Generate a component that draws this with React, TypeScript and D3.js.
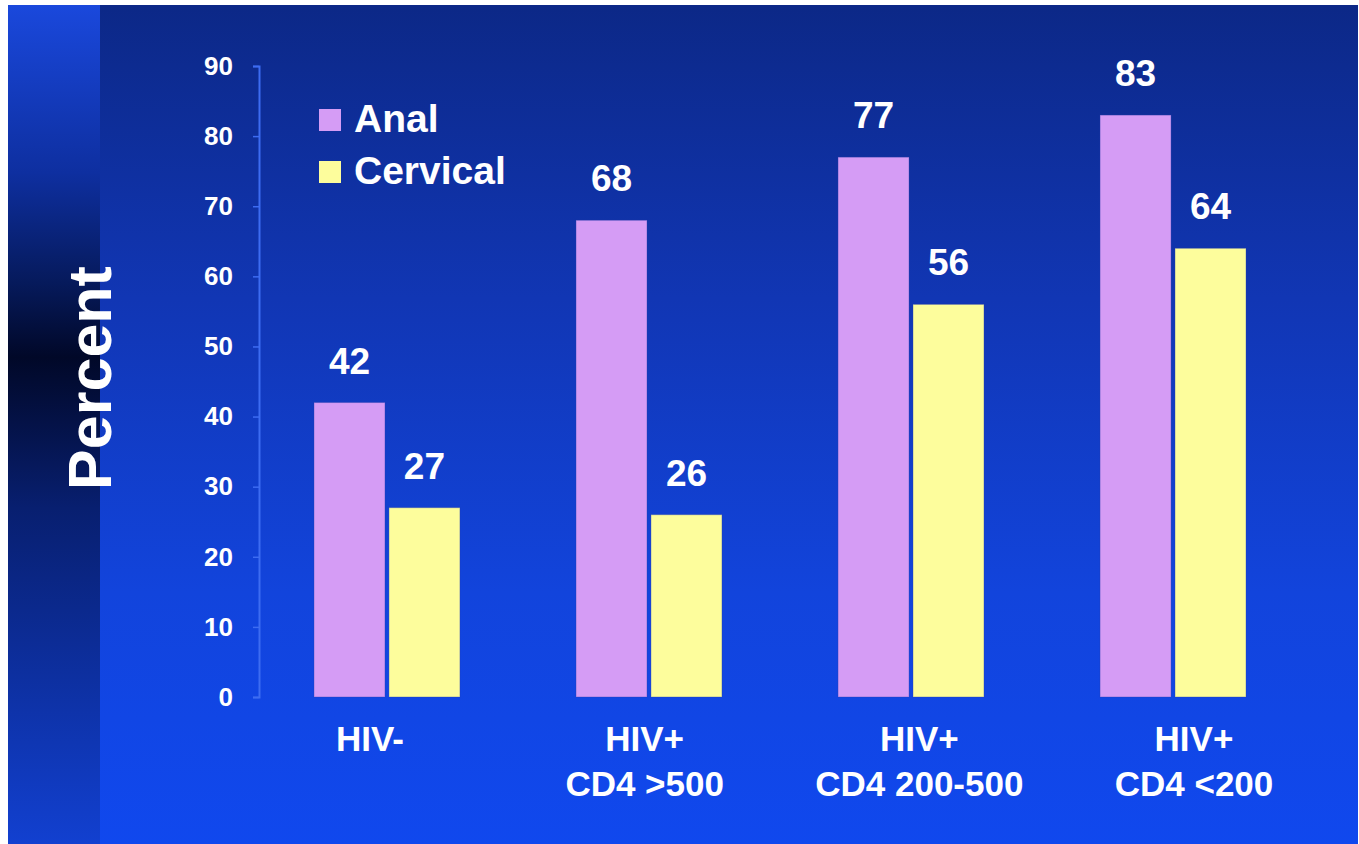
import { useRef, useEffect } from "react";
import * as d3 from "d3";

const categories = ["HIV-", "HIV+\nCD4 >500", "HIV+\nCD4 200-500", "HIV+\nCD4 <200"];
const seriesNames = ["Anal", "Cervical"];
const analValues = [42, 68, 77, 83];
const cervicalValues = [27, 26, 56, 64];
const yTicks = [0, 10, 20, 30, 40, 50, 60, 70, 80, 90];

const colors: Record<string, string> = { Anal: "#d59cf5", Cervical: "#fdfd9c" };
const FONT = "'Liberation Sans', Arial, Helvetica, sans-serif";

const W = 1359;
const H = 844;

export default function App() {
    const ref = useRef<SVGSVGElement>(null);

    useEffect(() => {
        if (!ref.current) return;
        const svg = d3.select(ref.current);
        svg.selectAll("*").remove();

        const defs = svg.append("defs");
        const main = defs.append("linearGradient").attr("id", "bgMain")
            .attr("x1", 0).attr("y1", 0).attr("x2", 0).attr("y2", 1);
        main.append("stop").attr("offset", 0).attr("stop-color", "#0c2887");
        main.append("stop").attr("offset", 0.35).attr("stop-color", "#1136b4");
        main.append("stop").attr("offset", 0.7).attr("stop-color", "#1244dc");
        main.append("stop").attr("offset", 1).attr("stop-color", "#1048ee");

        const side = defs.append("linearGradient").attr("id", "bgSide")
            .attr("x1", 0).attr("y1", 0).attr("x2", 0).attr("y2", 1);
        side.append("stop").attr("offset", 0).attr("stop-color", "#1a48dc");
        side.append("stop").attr("offset", 0.2).attr("stop-color", "#0e2fa0");
        side.append("stop").attr("offset", 0.33).attr("stop-color", "#061a5c");
        side.append("stop").attr("offset", 0.42).attr("stop-color", "#010828");
        side.append("stop").attr("offset", 0.6).attr("stop-color", "#081f70");
        side.append("stop").attr("offset", 1).attr("stop-color", "#1240d0");

        svg.append("rect").attr("width", W).attr("height", H).attr("fill", "#fff");
        svg.append("rect").attr("x", 8).attr("y", 5).attr("width", W - 9).attr("height", H - 5)
            .attr("fill", "url(#bgMain)");
        svg.append("rect").attr("x", 8).attr("y", 5).attr("width", 92).attr("height", H - 5)
            .attr("fill", "url(#bgSide)");

        const y = d3.scaleLinear().domain([0, 90]).range([697, 66]);
        const x0 = d3.scaleBand().domain(categories).range([314, 1246])
            .paddingInner(0.443).paddingOuter(0);
        const x1 = d3.scaleBand().domain(seriesNames).range([0, x0.bandwidth()])
            .paddingInner(0.053);
        const xLabel = d3.scalePoint().domain(categories).range([370, 1194]);

        // y axis
        const axis = svg.append("g").attr("transform", "translate(259,0)")
            .call(d3.axisLeft(y).tickValues(yTicks).tickSize(6).tickPadding(20));
        axis.select(".domain").attr("stroke", "#3d6cf2").attr("stroke-width", 2);
        axis.selectAll(".tick line").attr("stroke", "#3d6cf2").attr("stroke-width", 1.5);
        axis.selectAll(".tick text")
            .attr("fill", "#fff")
            .attr("font-family", FONT)
            .attr("font-weight", "bold")
            .attr("font-size", 26);

        svg.append("text")
            .attr("transform", "translate(111,378) rotate(-90)")
            .attr("text-anchor", "middle")
            .attr("fill", "#fff")
            .attr("font-family", FONT)
            .attr("font-weight", "bold")
            .attr("font-size", 61)
            .text("Percent");

        const rows = categories.map((c, i) => ({
            cat: c,
            vals: [
                { key: "Anal", value: analValues[i] },
                { key: "Cervical", value: cervicalValues[i] },
            ],
        }));

        const groups = svg.append("g").selectAll("g")
            .data(rows)
            .join("g")
            .attr("transform", d => `translate(${x0(d.cat)},0)`);

        groups.selectAll("rect")
            .data(d => d.vals)
            .join("rect")
            .attr("x", d => x1(d.key)!)
            .attr("y", d => y(d.value))
            .attr("width", x1.bandwidth())
            .attr("height", d => y(0) - y(d.value))
            .attr("fill", d => colors[d.key])
            .attr("stroke", "#2a3fa8")
            .attr("stroke-opacity", 0.35)
            .attr("stroke-width", 1);

        groups.selectAll("text.val")
            .data(d => d.vals)
            .join("text")
            .attr("class", "val")
            .attr("x", d => x1(d.key)! + x1.bandwidth() / 2)
            .attr("y", d => y(d.value) - 29)
            .attr("text-anchor", "middle")
            .attr("fill", "#fff")
            .attr("font-family", FONT)
            .attr("font-weight", "bold")
            .attr("font-size", 37)
            .text(d => d.value);

        // category labels
        const labels = svg.append("g").selectAll("text")
            .data(categories)
            .join("text")
            .attr("x", d => xLabel(d)!)
            .attr("y", 751)
            .attr("text-anchor", "middle")
            .attr("fill", "#fff")
            .attr("font-family", FONT)
            .attr("font-weight", "bold")
            .attr("font-size", 35);
        labels.each(function (d) {
            const t = d3.select(this);
            d.split("\n").forEach((line, i) => {
                t.append("tspan").attr("x", xLabel(d)!).attr("dy", i === 0 ? 0 : 45).text(line);
            });
        });

        // legend
        const legend = svg.append("g").selectAll("g")
            .data(seriesNames)
            .join("g")
            .attr("transform", (d, i) => `translate(319,${132 + i * 52})`);
        legend.append("rect")
            .attr("x", 0).attr("y", -23)
            .attr("width", 22).attr("height", 22)
            .attr("fill", d => colors[d]);
        legend.append("text")
            .attr("x", 35).attr("y", 0)
            .attr("fill", "#fff")
            .attr("font-family", FONT)
            .attr("font-weight", "bold")
            .attr("font-size", 39)
            .text(d => d);
    }, []);

    return (
        <svg ref={ref} width={W} height={H}
            style={{ position: "absolute", left: 0, top: 0, display: "block" }} />
    );
}
